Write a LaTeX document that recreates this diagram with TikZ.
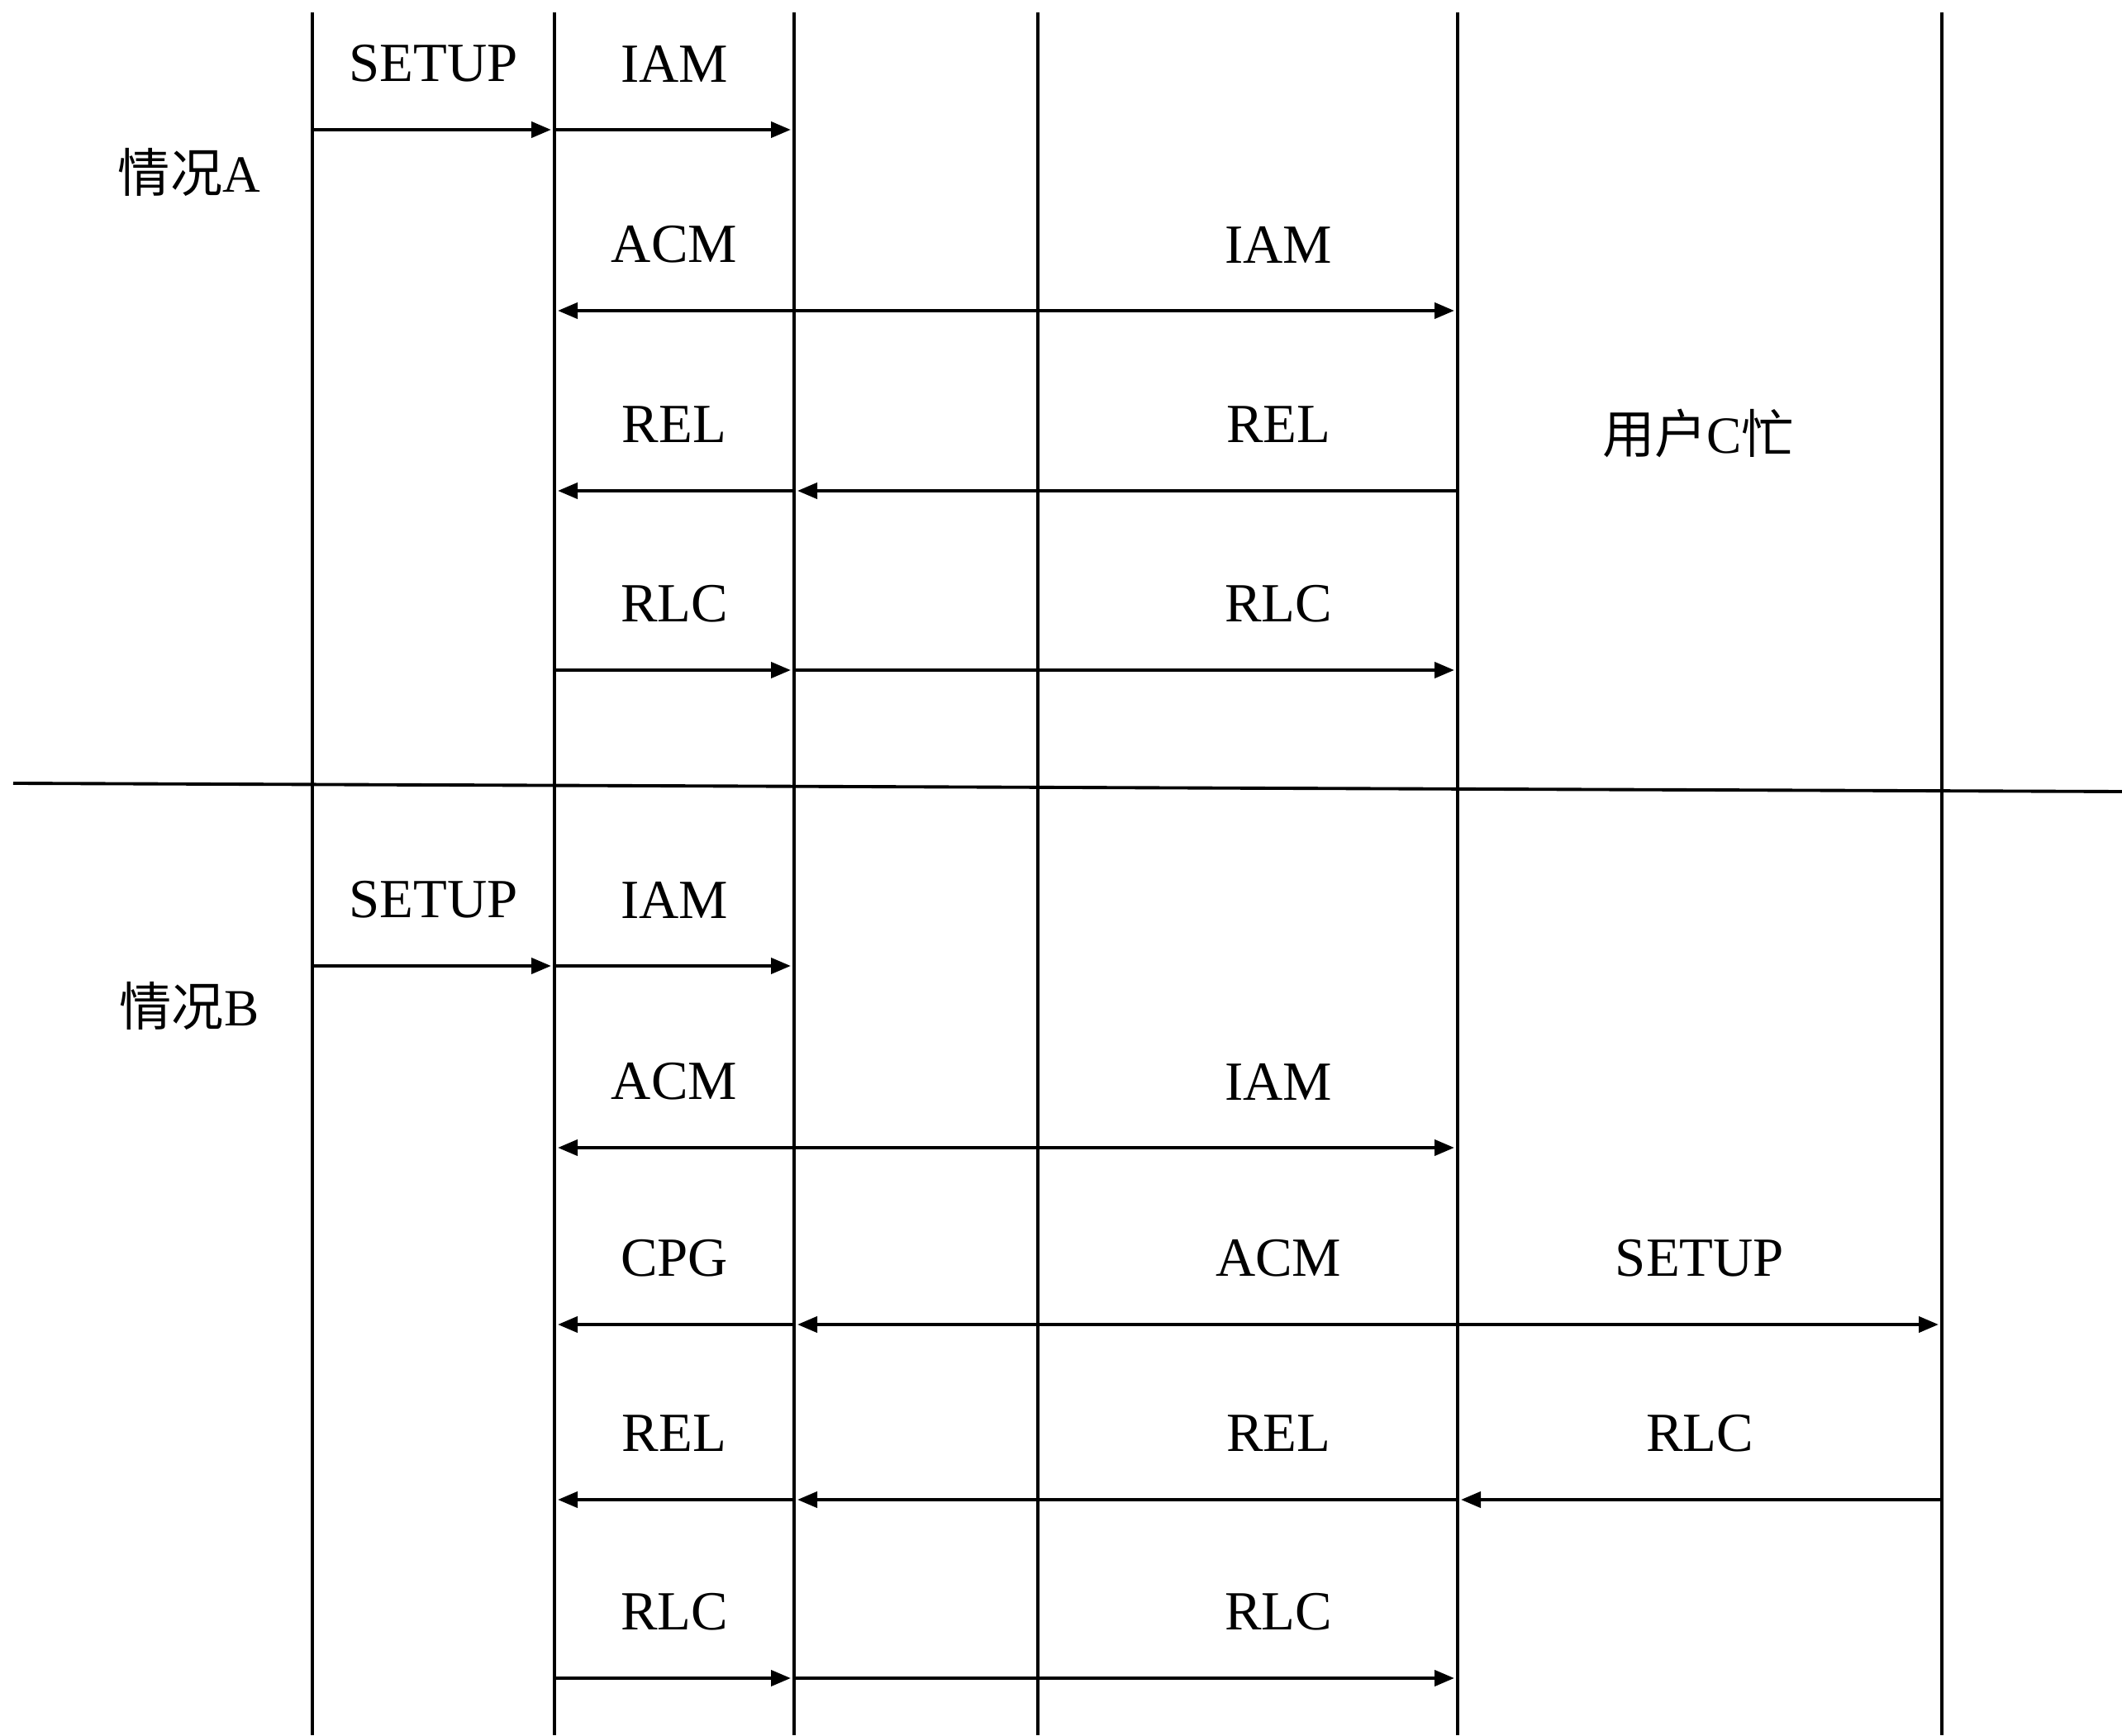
\documentclass[tikz,border=0pt]{standalone}
\usepackage{fontspec}
\setmainfont{Liberation Serif}
\newfontfamily\cjk{Noto Sans CJK SC}
\usetikzlibrary{arrows.meta}

\begin{document}
\begin{tikzpicture}[
    lifeline/.style={line width=0.95pt},
    msg/.style={line width=1.2pt, -{Triangle[length=0.24cm, width=0.19cm]}, shorten >=0.04cm},
    lbl/.style={yshift=0.8cm, font=\fontsize{19pt}{22pt}\selectfont, inner sep=0pt},
    case/.style={font=\cjk\fontsize{18pt}{21pt}\selectfont, inner sep=0pt}
]
            \useasboundingbox (0,0) rectangle (25.68,21);

            % Define lanes and message points
            \foreach \n/\x in {a/3.78, b/6.71, c/9.61, d/12.56, e/17.64, f/23.50} {
                \coordinate (\n top) at (\x,20.85);
                \coordinate (\n bot) at (\x,0);
                \foreach \r/\y in {1/19.43, 2/17.24, 3/15.06, 4/12.89, 5/9.31, 6/7.11, 7/4.97, 8/2.85, 9/0.69}
                    \coordinate (\n\r) at (\x,\y);
            }
            \coordinate (sepL) at (0.16,11.52);
            \coordinate (sepR) at (25.68,11.42);

            % Draw lifelines
            \foreach \n in {a,b,c,d,e,f}
                \draw[lifeline] (\n top) -- (\n bot);
            \draw[line width=1.1pt] (sepL) -- (sepR);

            % Case labels
            \node[case] (caseA) at (2.29,18.92) {情况\rmfamily A};
            \node[case] (caseB) at (2.29,8.83) {情况\rmfamily B};
            \node[case] (busy) at (20.55,15.76) {用户\rmfamily C\cjk 忙};

            % Case A
            \draw[msg] (a1) -- node[lbl] {SETUP} (b1);
            \draw[msg] (b1) -- node[lbl] {IAM} (c1);
            \draw[msg] (c2) -- node[lbl] {ACM} (b2);
            \draw[msg] (c2) -- node[lbl, pos=0.73] {IAM} (e2);
            \draw[msg] (c3) -- node[lbl] {REL} (b3);
            \draw[msg] (e3) -- node[lbl, pos=0.27] {REL} (c3);
            \draw[msg] (b4) -- node[lbl] {RLC} (c4);
            \draw[msg] (c4) -- node[lbl, pos=0.73] {RLC} (e4);

            % Case B
            \draw[msg] (a5) -- node[lbl] {SETUP} (b5);
            \draw[msg] (b5) -- node[lbl] {IAM} (c5);
            \draw[msg] (c6) -- node[lbl] {ACM} (b6);
            \draw[msg] (c6) -- node[lbl, pos=0.73] {IAM} (e6);
            \draw[msg] (c7) -- node[lbl] {CPG} (b7);
            \draw[msg] (e7) -- node[lbl, pos=0.27] {ACM} (c7);
            \draw[msg] (e7) -- node[lbl] {SETUP} (f7);
            \draw[msg] (c8) -- node[lbl] {REL} (b8);
            \draw[msg] (e8) -- node[lbl, pos=0.27] {REL} (c8);
            \draw[msg] (f8) -- node[lbl] {RLC} (e8);
            \draw[msg] (b9) -- node[lbl] {RLC} (c9);
            \draw[msg] (c9) -- node[lbl, pos=0.73] {RLC} (e9);

        \end{tikzpicture}
\end{document}
